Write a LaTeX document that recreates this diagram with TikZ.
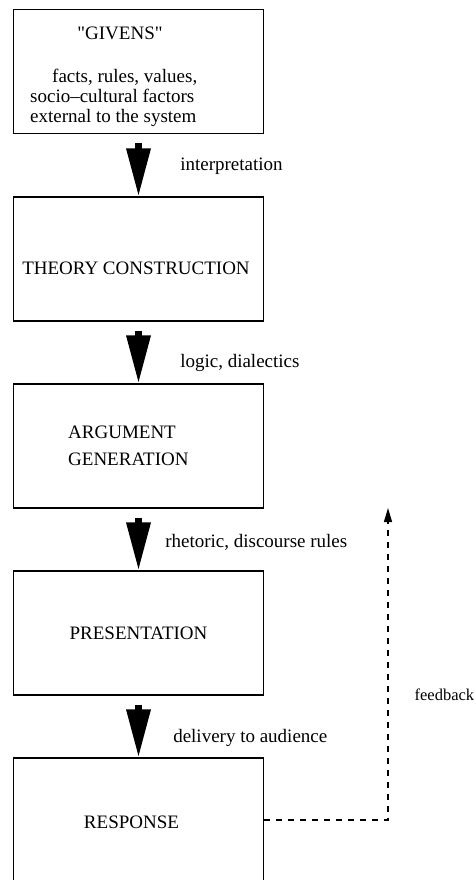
\documentclass[tikz,border=0pt]{standalone}
\usepackage{fontspec}
\setmainfont{Liberation Serif}
\usetikzlibrary{arrows.meta}

\begin{document}
\begin{tikzpicture}[
    x=1pt, y=-1pt,
    font=\fontsize{19}{20}\selectfont,
    stage/.style={rectangle,draw,line width=1.2pt,minimum width=250pt,minimum height=124pt,inner sep=0pt},
    txt/.style={inner sep=0pt,align=left},
    lbl/.style={anchor=west,inner sep=0pt},
    bigarrow/.style={line width=6.5pt,-{Triangle[width=23pt,length=48pt]},shorten <=9pt},
    feedback/.style={line width=1.3pt,dash pattern=on 6pt off 6pt,-{Triangle[width=8pt,length=14pt]}}
]
\useasboundingbox (0,0) rectangle (476,880);

\node[stage] (givens) at (138.5,71.5) {};
\node[stage] (theory) at (138.5,259) {};
\node[stage] (argument) at (138.5,446) {};
\node[stage] (present) at (138.5,633) {PRESENTATION};
\node[stage] (response) at (138.5,820) {};

\node[txt] (givenstitle) at (120,33) {\textquotedbl GIVENS\textquotedbl};
\node[txt,anchor=west] (givenstext) at (30,98) {\hspace*{22pt}facts, rules, values,\\socio--cultural factors\\external to the system};
\node[txt] (theorytext) at (136,268) {THEORY CONSTRUCTION};
\node[txt,anchor=west] (argumenttext) at (68,445.5) {ARGUMENT\\[7pt]GENERATION};
\node[txt] (responsetext) at (131.5,822) {RESPONSE};
\coordinate (fbtop) at (388,508);

\draw[bigarrow] (givens) -- node[lbl,pos=0.52,xshift=38.5pt]{interpretation} (theory);
\draw[bigarrow] (theory) -- node[lbl,pos=0.67,xshift=38.5pt]{logic, dialectics} (argument);
\draw[bigarrow] (argument) -- node[lbl,pos=0.54,xshift=23.5pt]{rhetoric, discourse rules} (present);
\draw[bigarrow] (present) -- node[lbl,pos=0.68,xshift=31.5pt]{delivery to audience} (response);
\draw[feedback] (response) -| node[lbl,pos=0.7,xshift=26pt,font=\fontsize{16.5}{18}\selectfont]{feedback} (fbtop);
\end{tikzpicture}
\end{document}
